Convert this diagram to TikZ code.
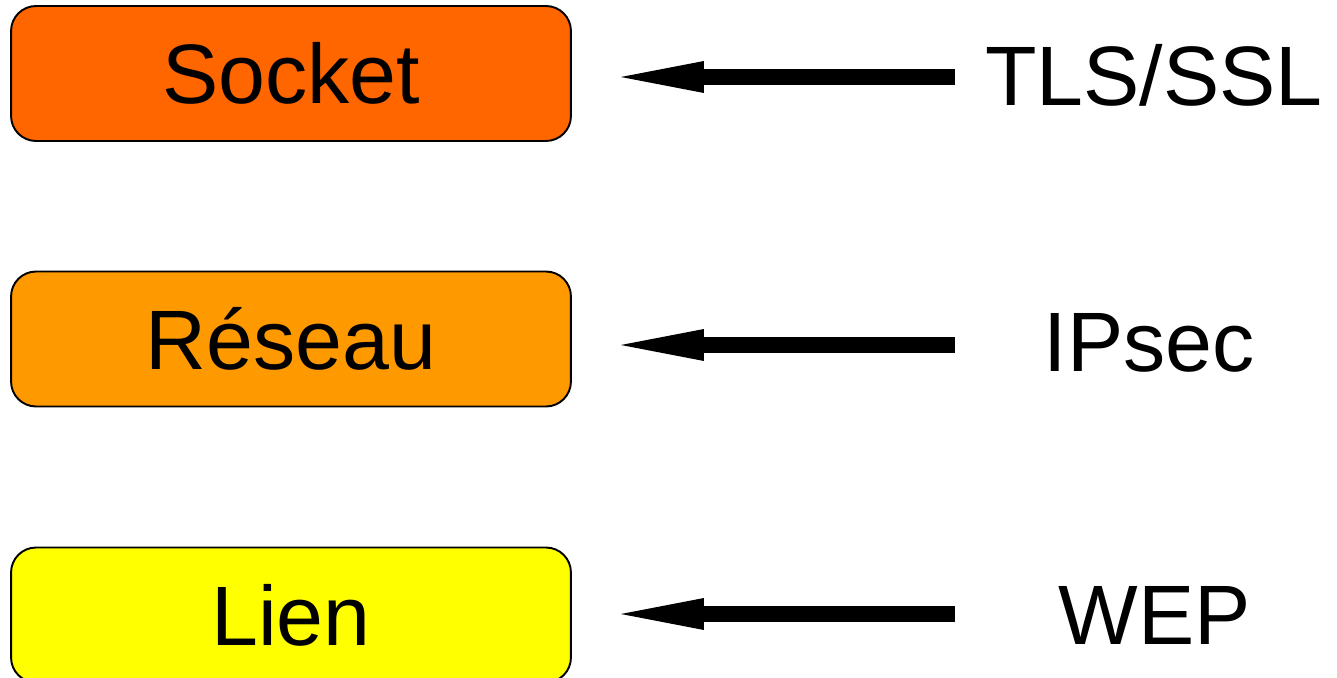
\documentclass[tikz,border=0pt]{standalone}
\usepackage{fontspec}
\setmainfont{Liberation Sans}
\usepackage{xcolor}
\usepackage{tikz}
\usetikzlibrary{arrows.meta, positioning, calc}
\definecolor{socketorange}{RGB}{255,102,0}
\definecolor{reseauorange}{RGB}{255,153,0}
\definecolor{lienjaune}{RGB}{255,255,0}

\begin{document}
\begin{tikzpicture}[x=0.02cm, y=-0.02cm,
    couche/.style={draw=black, line width=1.1pt, rounded corners=0.5cm,
        minimum width=11.2cm, minimum height=2.7cm, inner sep=0pt,
        text height=34.4pt, text depth=0pt,
        font=\fontsize{48}{58}\selectfont},
    proto/.style={inner sep=0pt, text height=34.4pt, text depth=0pt,
        font=\fontsize{48}{58}\selectfont},
    fleche/.style={line width=0.32cm,
        -{Triangle[length=1.66cm, width=0.64cm, line width=0pt]}}]
    \useasboundingbox (0,0) rectangle (1337,678);

    % Couches
    \node[couche, fill=socketorange] (socket) at (291,73.5) {Socket};
    \node[couche, fill=reseauorange] (reseau) at (291,339) {Réseau};
    \node[couche, fill=lienjaune] (lien) at (291,615) {Lien};

    % Protocoles
    \node[proto] (tls) at (1154,75) {TLS/SSL};
    \node[proto] (ipsec) at (1149,341) {IPsec};
    \node[proto] (wep) at (1155,614) {WEP};

    % Fleches
    \coordinate (tlsfin) at (955,77);
    \coordinate (ipsecfin) at (955,345);
    \coordinate (wepfin) at (955,614);
    \draw[fleche] (tlsfin) -- (tlsfin -| {$(socket.east)+(49,0)$});
    \draw[fleche] (ipsecfin) -- (ipsecfin -| {$(reseau.east)+(49,0)$});
    \draw[fleche] (wepfin) -- (wepfin -| {$(lien.east)+(49,0)$});
\end{tikzpicture}
\end{document}
